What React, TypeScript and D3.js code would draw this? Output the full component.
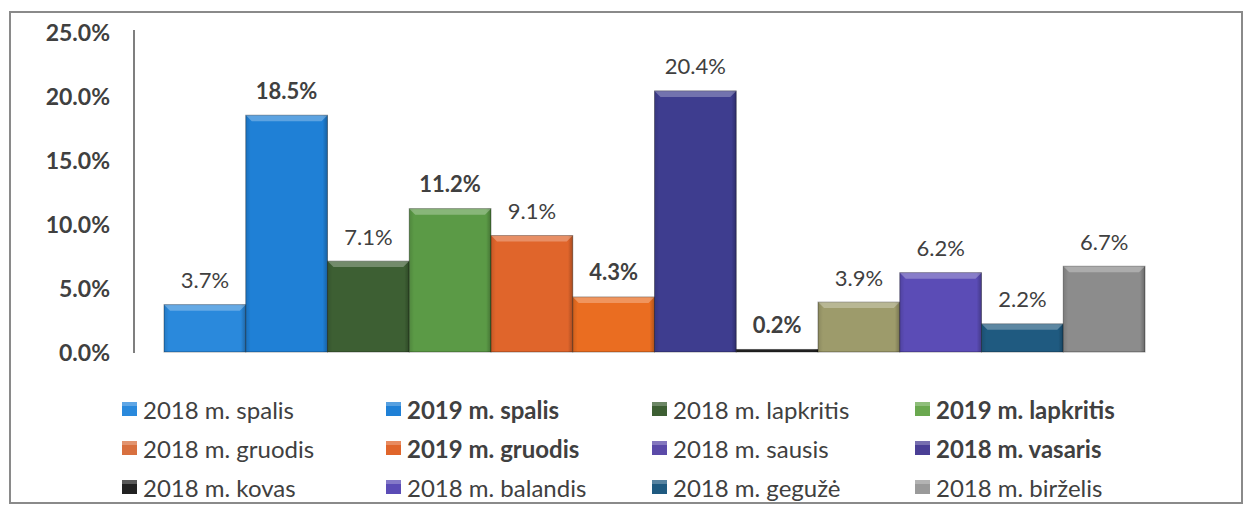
import React from "react";
import * as d3 from "d3";

const categories = [
  "2018 m. spalis",
  "2019 m. spalis",
  "2018 m. lapkritis",
  "2019 m. lapkritis",
  "2018 m. gruodis",
  "2019 m. gruodis",
  "2018 m. sausis",
  "2018 m. vasaris",
  "2018 m. kovas",
  "2018 m. balandis",
  "2018 m. gegužė",
  "2018 m. birželis",
];
const values = [3.7, 18.5, 7.1, 11.2, 9.1, 4.3, 20.4, 0.2, 3.9, 6.2, 2.2, 6.7];
const emphasized = [false, true, false, true, false, true, false, true, false, false, false, false];
const barColors = [
  "#2a89dc", "#1f80d6", "#3d5f33", "#5b9a46", "#e0652b", "#ea6d21",
  "#3e3d8f", "#222222", "#9d9b6b", "#5b4cb6", "#1f5a80", "#8c8c8c",
];
const legendColors = [
  "#2a89dc", "#1f80d6", "#3d5f33", "#6aa84f", "#d8703f", "#e0652b",
  "#5b4aa8", "#4a3f95", "#222222", "#5b4cb6", "#1f5a80", "#9a9a9a",
];
const yTicks = [0, 5, 10, 15, 20, 25];

const W = 1245;
const H = 506;

export default function App() {
  const x = d3.scaleBand<string>().domain(categories).range([164, 1145]).padding(0);
  const y = d3.scaleLinear().domain([0, 25]).range([352, 32]);
  const fmt = (v: number) => d3.format(".1f")(v) + "%";
  const font = "Lato, 'Open Sans', sans-serif";
  const legendCols = [122, 386, 652, 915];
  const legendRows = [409, 448, 487];

  return (
    <svg
      width={W}
      height={H}
      style={{ position: "absolute", left: 0, top: 0, background: "#fff" }}
      fontFamily={font}
    >
      <defs>
        <linearGradient id="sideShade" x1="0" x2="1" y1="0" y2="0">
          <stop offset="0" stopColor="#000" stopOpacity="0.12" />
          <stop offset="0.06" stopColor="#000" stopOpacity="0" />
          <stop offset="0.94" stopColor="#000" stopOpacity="0" />
          <stop offset="1" stopColor="#000" stopOpacity="0.25" />
        </linearGradient>
      </defs>
      <rect x={10} y={12} width={1232} height={491} fill="#fff" stroke="#8a8a8a" strokeWidth={2} />

      {/* y axis */}
      <line x1={134} x2={134} y1={y(25) - 2} y2={y(0) + 1} stroke="#555" strokeWidth={1.5} />
      {yTicks.map((t) => (
        <text
          key={t}
          x={110}
          y={y(t)}
          textAnchor="end"
          dominantBaseline="central"
          fontSize={23}
          fontWeight="bold"
          fill="#404040"
        >
          {fmt(t)}
        </text>
      ))}

      {/* bars */}
      {categories.map((c, i) => {
        const bx = x(c) as number;
        const bw = x.bandwidth();
        const top = y(values[i]);
        const h = y(0) - top;
        const bev = Math.min(6, h / 2);
        return (
          <g key={c}>
            <rect x={bx} y={top} width={bw} height={h} fill={barColors[i]} stroke="rgba(0,0,0,0.35)" strokeWidth={1} />
            <rect x={bx} y={top} width={bw} height={h} fill="url(#sideShade)" />
            {h > 4 && (
              <polygon
                points={`${bx},${top} ${bx + bw},${top} ${bx + bw - bev},${top + bev} ${bx + bev},${top + bev}`}
                fill="#fff"
                fillOpacity={0.28}
              />
            )}
            <text
              x={bx + bw / 2}
              y={top - 25}
              textAnchor="middle"
              dominantBaseline="central"
              fontSize={22}
              fontWeight={emphasized[i] ? "bold" : "normal"}
              fill="#404040"
            >
              {fmt(values[i])}
            </text>
          </g>
        );
      })}

      {/* legend */}
      {categories.map((c, i) => {
        const col = i % 4;
        const row = Math.floor(i / 4);
        const lx = legendCols[col];
        const ly = legendRows[row];
        return (
          <g key={"lg" + c}>
            <rect x={lx} y={ly - 7} width={15} height={14} fill={legendColors[i]} />
            <rect x={lx} y={ly - 7} width={15} height={4} fill="#fff" fillOpacity={0.25} />
            <text
              x={lx + 21}
              y={ly}
              dominantBaseline="central"
              fontSize={24}
              fontWeight={emphasized[i] ? "bold" : "normal"}
              fill="#404040"
            >
              {c}
            </text>
          </g>
        );
      })}
    </svg>
  );
}
